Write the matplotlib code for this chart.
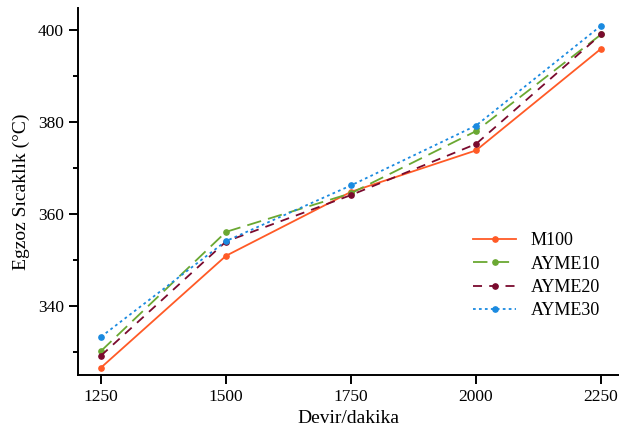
import matplotlib
matplotlib.use("Agg")
import matplotlib.pyplot as plt
from matplotlib.ticker import MultipleLocator

# Engine speed (rpm) and exhaust temperature (deg C)
rpm = [1250, 1500, 1750, 2000, 2250]
m100 = [326.6, 350.9, 364.8, 373.8, 395.9]
ayme10 = [330.2, 356.1, 364.5, 378.0, 399.0]
ayme20 = [329.2, 354.0, 364.1, 375.2, 399.0]
ayme30 = [333.3, 354.1, 366.2, 379.2, 400.9]

series = [
    ("M100", m100, "#ff5a26", "-"),
    ("AYME10", ayme10, "#6aa832", (0, (8, 4))),
    ("AYME20", ayme20, "#7a0a2e", (0, (5, 4))),
    ("AYME30", ayme30, "#1a8ae0", (0, (1.5, 1.8))),
]

plt.rcParams.update({
    'font.family': 'Liberation Serif',
    'font.size': 12.5,
    'axes.linewidth': 1.4,
    'xtick.major.size': 6.5,
    'xtick.major.width': 1.4,
    'ytick.major.size': 6.5,
    'ytick.major.width': 1.4,
    'ytick.minor.size': 3.5,
    'ytick.minor.width': 1.4,
})

fig = plt.figure(figsize=(6.19, 4.34), dpi=100)
ax = fig.add_axes([0.126, 0.136, 0.874, 0.846])

for name, vals, color, ls in series:
    ax.plot(rpm, vals, color=color, linestyle=ls, linewidth=1.3,
            marker='o', markersize=3.8, label=name)

ax.set_xlim(1204, 2286)
ax.set_ylim(325, 404.8)
ax.set_xticks(rpm)
ax.yaxis.set_major_locator(MultipleLocator(20))
ax.yaxis.set_minor_locator(MultipleLocator(10))

for side in ("top", "right"):
    ax.spines[side].set_visible(False)

ax.set_xlabel("Devir/dakika", fontsize=14, labelpad=4)
ax.set_ylabel("Egzoz Sıcaklık (°C)", fontsize=14, labelpad=6)

ax.legend(loc='center right', bbox_to_anchor=(0.995, 0.27), frameon=False,
          fontsize=13, handlelength=2.4, labelspacing=0.35)

plt.savefig("out.png", dpi=100)
